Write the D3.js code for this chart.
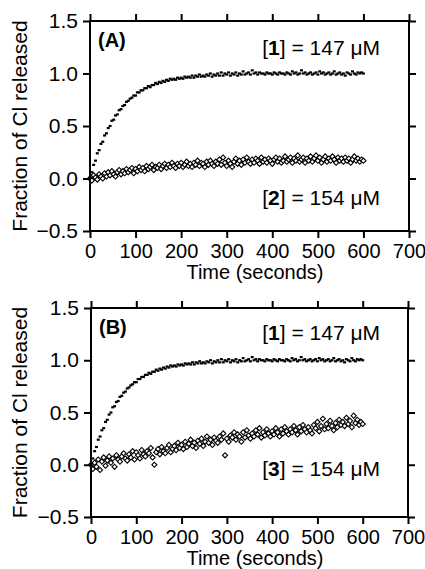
<!DOCTYPE html>
<html>
<head>
<meta charset="utf-8">
<script src="https://cdn.jsdelivr.net/npm/d3@7"></script>
<style>
  body { margin: 0; background: #fff; }
  svg { display: block; font-family: "Liberation Sans", Arial, Helvetica, sans-serif; }
</style>
</head>
<body>
<div id="chart"></div>
<script>
var svgWidth = 425;
var svgHeight = 569;

// sampling interval of the recorded traces (seconds)
var sampleStep = 4;

var xTicks = [0, 100, 200, 300, 400, 500, 600, 700];
var yTicks = [-0.5, 0.0, 0.5, 1.0, 1.5];

// [1] = 147 uM, same trace shown in both panels
var release1 = [
  0.01, 0.06, 0.13, 0.17, 0.24, 0.27, 0.33, 0.35, 0.41, 0.43,
  0.48, 0.50, 0.55, 0.56, 0.60, 0.61, 0.65, 0.66, 0.69, 0.70,
  0.73, 0.74, 0.76, 0.77, 0.79, 0.79, 0.82, 0.82, 0.84, 0.84,
  0.86, 0.86, 0.88, 0.87, 0.89, 0.89, 0.91, 0.90, 0.92, 0.91,
  0.93, 0.92, 0.94, 0.93, 0.95, 0.94, 0.95, 0.94, 0.96, 0.95,
  0.96, 0.95, 0.97, 0.96, 0.97, 0.96, 0.98, 0.96, 0.98, 0.97,
  0.99, 0.97, 0.98, 0.97, 0.99, 0.98, 1.00, 0.97, 0.99, 0.98,
  1.00, 0.98, 1.01, 0.98, 1.00, 0.99, 1.01, 0.98, 1.00, 0.99,
  1.01, 0.98, 1.00, 0.99, 1.02, 0.99, 1.00, 1.01, 0.99, 1.03,
  1.00, 1.01, 0.99, 1.01, 1.00, 1.00, 0.99, 1.01, 1.00, 1.00,
  0.99, 1.01, 1.00, 0.99, 1.01, 1.00, 1.00, 0.99, 1.01, 1.00,
  0.99, 1.02, 1.00, 1.01, 0.99, 1.00, 1.03, 1.00, 1.01, 0.99,
  1.00, 1.01, 0.99, 1.00, 1.01, 0.99, 1.02, 1.00, 1.01, 0.99,
  1.00, 1.01, 0.99, 1.00, 1.02, 0.99, 1.00, 1.01, 0.99, 1.00,
  0.98, 1.01, 1.00, 0.99, 1.02, 1.00, 0.99, 1.01, 1.00, 1.01,
  1.00
];

// [2] = 154 uM (panel A)
var release2 = [
  0.00, -0.02, 0.03, 0.01, -0.01, 0.04, 0.02, 0.00, 0.05, 0.02,
  0.06, 0.03, 0.07, 0.04, 0.02, 0.06, 0.08, 0.04, 0.07, 0.05,
  0.09, 0.06, 0.08, 0.10, 0.05, 0.09, 0.07, 0.11, 0.08, 0.10,
  0.07, 0.12, 0.09, 0.11, 0.13, 0.08, 0.11, 0.10, 0.13, 0.09,
  0.12, 0.14, 0.10, 0.13, 0.11, 0.15, 0.12, 0.10, 0.14, 0.12,
  0.15, 0.11, 0.13, 0.16, 0.12, 0.14, 0.11, 0.15, 0.13, 0.17,
  0.12, 0.15, 0.14, 0.11, 0.16, 0.13, 0.17, 0.14, 0.12, 0.16,
  0.14, 0.18, 0.13, 0.20, 0.15, 0.12, 0.17, 0.14, 0.11, 0.16,
  0.19, 0.14, 0.17, 0.13, 0.18, 0.15, 0.20, 0.16, 0.14, 0.18,
  0.15, 0.19, 0.17, 0.14, 0.20, 0.16, 0.18, 0.15, 0.19, 0.17,
  0.14, 0.18, 0.20, 0.16, 0.19, 0.15, 0.17, 0.21, 0.16, 0.18,
  0.20, 0.15, 0.19, 0.17, 0.22, 0.16, 0.18, 0.20, 0.15, 0.19,
  0.17, 0.21, 0.16, 0.19, 0.22, 0.17, 0.20, 0.15, 0.18, 0.21,
  0.16, 0.19, 0.17, 0.21, 0.18, 0.15, 0.20, 0.17, 0.19, 0.16,
  0.20, 0.17, 0.19, 0.15, 0.18, 0.21, 0.17, 0.19, 0.16, 0.18,
  0.17
];

// [3] = 154 uM (panel B)
var release3 = [
  0.00, -0.04, 0.02, -0.02, 0.05, -0.05, 0.03, 0.07, -0.01, 0.04,
  0.08, 0.02, 0.06, -0.02, 0.09, 0.05, 0.03, 0.08, 0.11, 0.06,
  0.04, 0.10, 0.07, 0.13, 0.05, 0.12, 0.09, 0.06, 0.14, 0.10,
  0.08, 0.13, 0.11, 0.16, 0.07, 0.00, 0.12, 0.15, 0.10, 0.17,
  0.13, 0.11, 0.16, 0.19, 0.12, 0.15, 0.18, 0.14, 0.21, 0.16,
  0.19, 0.15, 0.22, 0.17, 0.20, 0.24, 0.18, 0.21, 0.16, 0.23,
  0.20, 0.25, 0.18, 0.22, 0.27, 0.21, 0.24, 0.19, 0.26, 0.23,
  0.21, 0.27, 0.24, 0.30, 0.09, 0.25, 0.22, 0.28, 0.26, 0.31,
  0.24, 0.29, 0.27, 0.22, 0.31, 0.26, 0.33, 0.28, 0.25, 0.30,
  0.27, 0.33, 0.29, 0.35, 0.26, 0.31, 0.28, 0.34, 0.30, 0.27,
  0.32, 0.29, 0.35, 0.31, 0.27, 0.34, 0.30, 0.36, 0.32, 0.29,
  0.34, 0.31, 0.37, 0.33, 0.29, 0.36, 0.32, 0.38, 0.34, 0.31,
  0.36, 0.33, 0.30, 0.38, 0.35, 0.41, 0.32, 0.37, 0.44, 0.34,
  0.39, 0.35, 0.42, 0.37, 0.33, 0.40, 0.36, 0.43, 0.38, 0.41,
  0.37, 0.45, 0.39, 0.42, 0.36, 0.47, 0.40, 0.43, 0.38, 0.41,
  0.39
];

var panels = [
  { tag: "(A)", fast: release1, slow: release2, slowId: "2",
    box: { top: 21, bottom: 231, left: 90, right: 409 },
    fastLabelY: 55, slowLabelY: 205 },
  { tag: "(B)", fast: release1, slow: release3, slowId: "3",
    box: { top: 308, bottom: 517, left: 91, right: 408 },
    fastLabelY: 340, slowLabelY: 476 }
];

var svg = d3.select("#chart")
  .append("svg")
  .attr("width", svgWidth)
  .attr("height", svgHeight);

function toPoints(values) {
  return values.map((v, i) => ({ t: i * sampleStep, y: v }));
}

var diamond = d3.symbol().type(d3.symbolSquare).size(13);

panels.forEach(function(p) {
  var b = p.box;

  var x = d3.scaleLinear().domain([0, 700]).range([b.left, b.right]);
  var y = d3.scaleLinear().domain([-0.5, 1.5]).range([b.bottom, b.top]);

  var g = svg.append("g");

  // slow trace: open diamonds
  g.append("g")
    .selectAll("path")
    .data(toPoints(p.slow))
    .enter()
    .append("path")
    .attr("d", diamond)
    .attr("transform", d => `translate(${x(d.t)},${y(d.y)}) rotate(45)`)
    .attr("fill", "#fff")
    .attr("stroke", "#000")
    .attr("stroke-width", 1.1);

  // fast trace: tiny dashes
  g.append("g")
    .selectAll("rect")
    .data(toPoints(p.fast))
    .enter()
    .append("rect")
    .attr("x", d => x(d.t) - 1.5)
    .attr("y", d => y(d.y) - 1.1)
    .attr("width", 3)
    .attr("height", 2.2)
    .attr("fill", "#000");

  // axes: ticks outward on all four sides
  var axes = [
    g.append("g").attr("transform", `translate(0,${b.bottom})`)
      .call(d3.axisBottom(x).tickValues(xTicks).tickSize(7).tickPadding(6).tickFormat(d3.format("d"))),
    g.append("g").attr("transform", `translate(0,${b.top})`)
      .call(d3.axisTop(x).tickValues(xTicks).tickSize(7).tickFormat("")),
    g.append("g").attr("transform", `translate(${b.left},0)`)
      .call(d3.axisLeft(y).tickValues(yTicks).tickSize(7).tickPadding(5).tickFormat(d => d3.format(".1f")(d).replace("-", "\u2212"))),
    g.append("g").attr("transform", `translate(${b.right},0)`)
      .call(d3.axisRight(y).tickValues(yTicks).tickSize(7).tickFormat(""))
  ];
  axes.forEach((a, i) => {
    a.select(".domain").remove();
    a.selectAll("line").attr("stroke", "#000").attr("stroke-width", 2);
    a.selectAll("text").attr("font-size", i === 0 ? "20px" : "21px").attr("fill", "#000")
      .attr("font-family", "'Liberation Sans', Arial, sans-serif");
  });

  g.append("rect")
    .attr("x", b.left)
    .attr("y", b.top)
    .attr("width", b.right - b.left)
    .attr("height", b.bottom - b.top)
    .attr("fill", "none")
    .attr("stroke", "#000")
    .attr("stroke-width", 2);

  // labels
  g.append("text")
    .attr("x", 255)
    .attr("y", b.bottom + 48)
    .attr("text-anchor", "middle")
    .attr("font-size", "20px")
    .text("Time (seconds)");

  g.append("text")
    .attr("transform", `translate(27, ${(b.top + b.bottom) / 2}) rotate(-90)`)
    .attr("text-anchor", "middle")
    .attr("font-size", "21px")
    .text("Fraction of Cl released");

  g.append("text")
    .attr("x", b.left + 8)
    .attr("y", b.top + 26)
    .attr("font-size", "20px")
    .attr("font-weight", "bold")
    .text(p.tag);

  var fastLabel = g.append("text")
    .attr("x", 380)
    .attr("y", p.fastLabelY)
    .attr("text-anchor", "end")
    .attr("font-size", "21px");
  fastLabel.append("tspan").text("[");
  fastLabel.append("tspan").attr("font-weight", "bold").text("1");
  fastLabel.append("tspan").text("] = 147 \u03bcM");

  var slowLabel = g.append("text")
    .attr("x", 380)
    .attr("y", p.slowLabelY)
    .attr("text-anchor", "end")
    .attr("font-size", "21px");
  slowLabel.append("tspan").text("[");
  slowLabel.append("tspan").attr("font-weight", "bold").text(p.slowId);
  slowLabel.append("tspan").text("] = 154 \u03bcM");
});
</script>
</body>
</html>
